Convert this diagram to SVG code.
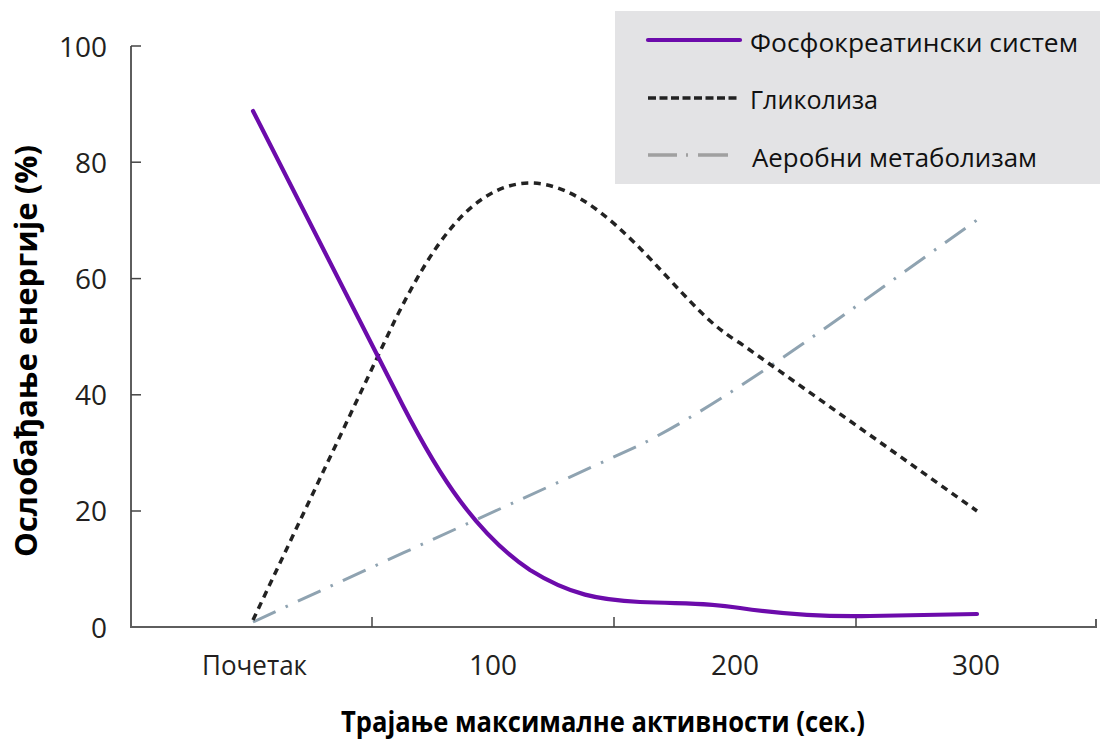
<svg xmlns="http://www.w3.org/2000/svg" width="1100" height="742" viewBox="0 0 1100 742">
  <style>
    .axis { stroke: #5e5e5e; stroke-width: 2; fill: none; }
    .tick { stroke: #444; stroke-width: 1.5; }
    .num { font-family: "Open Sans", "Noto Sans", sans-serif; font-size: 28px; fill: #231f20; }
    .lbl { font-family: "Open Sans", "Noto Sans", sans-serif; font-size: 26px; fill: #111; }
    .title { font-family: "Open Sans", "Noto Sans", sans-serif; font-weight: bold; fill: #000; }
    .pcr { stroke: #6c0bab; stroke-width: 4.2; fill: none; stroke-linecap: round; stroke-linejoin: round; }
    .gly { stroke: #222; stroke-width: 3.5; fill: none; stroke-dasharray: 7 5.5; }
    .aer { stroke: #8fa3b1; stroke-width: 3; fill: none; stroke-dasharray: 25 11 2.5 11; }
  </style>

  <g id="legend">
    <rect x="615" y="11" width="485" height="173" fill="#e3e3e5"/>
    <line x1="648" y1="40" x2="740" y2="40" class="pcr"/>
    <text x="750" y="52" class="lbl" textLength="328" lengthAdjust="spacingAndGlyphs">Фосфокреатински систем</text>
    <line x1="648" y1="98" x2="740" y2="98" stroke="#222" stroke-width="3.5" stroke-dasharray="8 3.5"/>
    <text x="750" y="109" class="lbl" textLength="128" lengthAdjust="spacingAndGlyphs">Гликолиза</text>
    <line x1="648" y1="155" x2="728" y2="155" stroke="#a0a0a0" stroke-width="3.5" stroke-dasharray="29 9 2 10 30"/>
    <text x="752" y="167" class="lbl" textLength="285" lengthAdjust="spacingAndGlyphs">Аеробни метаболизам</text>
  </g>

  <g id="axes">
    <path class="axis" d="M131,46 V627 H1096 V619"/>
    <g class="tick">
      <line x1="131" y1="46" x2="141" y2="46"/>
      <line x1="131" y1="162.2" x2="141" y2="162.2"/>
      <line x1="131" y1="278.6" x2="141" y2="278.6"/>
      <line x1="131" y1="394.8" x2="141" y2="394.8"/>
      <line x1="131" y1="511" x2="141" y2="511"/>
      <line x1="372" y1="627" x2="372" y2="617"/>
      <line x1="614" y1="627" x2="614" y2="617"/>
      <line x1="856" y1="627" x2="856" y2="617"/>
    </g>
    <g class="num" text-anchor="end">
      <text x="107" y="57">100</text>
      <text x="107" y="173">80</text>
      <text x="107" y="289">60</text>
      <text x="107" y="405">40</text>
      <text x="107" y="521">20</text>
      <text x="107" y="638">0</text>
    </g>
    <g class="num" text-anchor="middle">
      <text x="254.5" y="675" font-size="28" textLength="105" lengthAdjust="spacingAndGlyphs">Почетак</text>
      <text x="493" y="675">100</text>
      <text x="735" y="675">200</text>
      <text x="976" y="675">300</text>
    </g>
    <text class="title" x="603" y="732" font-size="28" text-anchor="middle" textLength="524" lengthAdjust="spacingAndGlyphs">Трајање максималне активности (сек.)</text>
    <text class="title" x="0" y="0" font-size="30" text-anchor="middle" textLength="412" lengthAdjust="spacingAndGlyphs" transform="translate(37,351) rotate(-90)">Ослобађање енергије (%)</text>
  </g>

  <g id="curves">
    <path id="aerobic" class="aer" d="M253,622 C380,563 520,500 640,445 C730,400 850,310 977,220"/>
    <path id="glycolysis" class="gly" d="M253,620 L395,320 C430,250 470,185 528,183 C577,182 622,228 670,280 C700,312 715,328 740,343 L977,511"/>
    <path id="phosphocreatine" class="pcr" d="M253,111 L395,390 C430,460 470,530 530,570 C570,595 600,600 640,602 C690,604 710,603 740,608 C780,614 820,617 870,616 L977,614"/>
  </g>
</svg>
